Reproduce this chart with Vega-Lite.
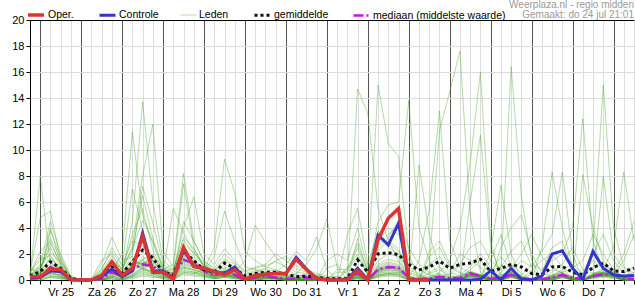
{
"$schema":"https://vega.github.io/schema/vega-lite/v6.json",
"width":604,"height":260,
"autosize":{"type":"none"},
"padding":{"left":30,"top":20,"right":1,"bottom":20},
"background":"white",
"title":{"text":["Weerplaza.nl - regio midden","Gemaakt: do 24 jul 21:01"],"anchor":"end","frame":"group","fontSize":10,"fontWeight":"normal","color":"#9a9a9a","font":"Liberation Sans","lineHeight":10,"offset":1,"baseline":"bottom","dy":26},
"config":{"view":{"stroke":null},"font":"Liberation Sans",
 "axis":{"labelFont":"Liberation Sans","labelFontSize":11,"labelColor":"#000000","tickColor":"#000000","domainColor":"#000000","gridColor":"#dcdcdc"},
 "legend":{"orient":"none","legendX":-4,"legendY":-15,"direction":"horizontal","symbolType":"stroke","symbolSize":256,"labelFontSize":10.5,"labelFont":"Liberation Sans","labelColor":"#000000","columnPadding":19,"labelOffset":2}},
"resolve":{"axis":{"x":"independent","y":"independent"}},
"data":{"values":[
{"h":18,"o":0.25,"c":0.2,"g":0.3,"d":0.1,"m1":0.3,"m2":0.5,"m3":0.2,"m4":0.8,"m5":0.1,"m6":0.4,"m7":0,"m8":0.6,"m9":0.2,"m10":0.3,"m11":0.1,"m12":0,"m13":0.5,"m14":0.2,"m15":0.3,"m16":0.7,"m17":0.1,"m18":0.4,"m19":0,"m20":0.2,"m21":0.3,"m22":0.1,"m23":0.6,"m24":0.2,"m25":0,"m26":0.4,"m27":0.3,"m28":0.1,"m29":0.2,"m30":0.5},
{"h":24,"o":0.25,"c":0.2,"g":0.64,"d":0.2,"m1":8.0,"m2":4.8,"m3":1.2,"m4":0.6,"m5":0.4,"m6":0.9,"m7":0.2,"m8":1.5,"m9":0.3,"m10":0.5,"m11":0,"m12":0.3,"m13":2.2,"m14":0.4,"m15":0.1,"m16":1.0,"m17":0.2,"m18":0.7,"m19":0,"m20":0.5,"m21":0.8,"m22":0.2,"m23":1.8,"m24":0.3,"m25":0.1,"m26":0.6,"m27":0.4,"m28":0,"m29":0.5,"m30":0.9},
{"h":30,"o":0.85,"c":0.7,"g":1.4,"d":1.0,"m1":1.2,"m2":5.3,"m3":4.5,"m4":4.0,"m5":3.8,"m6":2.5,"m7":0.8,"m8":1.9,"m9":0.6,"m10":1.3,"m11":0.3,"m12":1.0,"m13":3.0,"m14":0.7,"m15":0.5,"m16":2.1,"m17":0.4,"m18":1.6,"m19":0.2,"m20":1.1,"m21":2.8,"m22":0.9,"m23":1.4,"m24":0.5,"m25":0.3,"m26":1.7,"m27":0.6,"m28":0.2,"m29":1.0,"m30":3.2},
{"h":36,"o":0.8,"c":0.65,"g":0.9,"d":0.7,"m1":0.5,"m2":1.5,"m3":2.0,"m4":1.2,"m5":1.8,"m6":0.9,"m7":0.4,"m8":0.7,"m9":0.3,"m10":0.8,"m11":0.2,"m12":0.6,"m13":1.1,"m14":0.5,"m15":0.3,"m16":1.4,"m17":0.2,"m18":0.9,"m19":0.1,"m20":0.6,"m21":1.3,"m22":0.5,"m23":0.7,"m24":0.4,"m25":0.2,"m26":0.8,"m27":0.3,"m28":0.1,"m29":0.6,"m30":1.6},
{"h":42,"o":0,"c":0.05,"g":0.13,"d":0,"m1":0,"m2":0.2,"m3":0.3,"m4":0,"m5":0.1,"m6":0,"m7":0,"m8":0,"m9":0,"m10":0,"m11":0,"m12":0,"m13":0,"m14":0,"m15":0,"m16":0.1,"m17":0,"m18":0,"m19":0,"m20":0,"m21":0.2,"m22":0,"m23":0,"m24":0,"m25":0,"m26":0,"m27":0,"m28":0,"m29":0,"m30":0.2},
{"h":48,"o":0,"c":0,"g":0,"d":0,"m1":0,"m2":0,"m3":0,"m4":0,"m5":0,"m6":0,"m7":0,"m8":0,"m9":0,"m10":0,"m11":0,"m12":0,"m13":0,"m14":0,"m15":0,"m16":0,"m17":0,"m18":0,"m19":0,"m20":0,"m21":0,"m22":0,"m23":0,"m24":0,"m25":0,"m26":0,"m27":0,"m28":0,"m29":0,"m30":0},
{"h":54,"o":0,"c":0,"g":0,"d":0,"m1":0,"m2":0,"m3":0,"m4":0,"m5":0,"m6":0,"m7":0,"m8":0,"m9":0,"m10":0,"m11":0,"m12":0,"m13":0.1,"m14":0,"m15":0,"m16":0,"m17":0,"m18":0,"m19":0,"m20":0,"m21":0,"m22":0,"m23":0,"m24":0,"m25":0,"m26":0,"m27":0,"m28":0,"m29":0,"m30":0},
{"h":60,"o":0.35,"c":0.25,"g":0.33,"d":0.1,"m1":0.2,"m2":0,"m3":0.5,"m4":0,"m5":0.8,"m6":1.2,"m7":0.3,"m8":0,"m9":0.6,"m10":0.1,"m11":0,"m12":0.4,"m13":1.5,"m14":0,"m15":0.2,"m16":0,"m17":0.7,"m18":0.1,"m19":0,"m20":0.3,"m21":0,"m22":0.9,"m23":0.2,"m24":0,"m25":0.4,"m26":0,"m27":0.1,"m28":0.5,"m29":0,"m30":0.3},
{"h":66,"o":1.4,"c":0.85,"g":1.0,"d":0.6,"m1":0.6,"m2":0.3,"m3":1.1,"m4":0.2,"m5":2.5,"m6":3.3,"m7":0.8,"m8":0.4,"m9":1.6,"m10":0.5,"m11":0.1,"m12":1.0,"m13":2.0,"m14":0.3,"m15":0.7,"m16":0.2,"m17":1.8,"m18":0.5,"m19":0,"m20":1.2,"m21":0.4,"m22":2.2,"m23":0.9,"m24":0.1,"m25":1.4,"m26":0.3,"m27":0.6,"m28":1.5,"m29":0.2,"m30":0.8},
{"h":72,"o":0.35,"c":0.25,"g":0.5,"d":0.3,"m1":0.3,"m2":0.1,"m3":0.6,"m4":0.9,"m5":1.2,"m6":1.5,"m7":2.0,"m8":0.5,"m9":0.8,"m10":0.2,"m11":0,"m12":0.4,"m13":0.7,"m14":0.1,"m15":0.3,"m16":0,"m17":0.9,"m18":0.2,"m19":0.1,"m20":0.5,"m21":0.3,"m22":1.1,"m23":0.4,"m24":0,"m25":0.6,"m26":0.2,"m27":0.3,"m28":0.8,"m29":0.1,"m30":0.4},
{"h":78,"o":0.9,"c":0.7,"g":1.4,"d":0.8,"m1":0.8,"m2":0.4,"m3":1.5,"m4":2.2,"m5":3.0,"m6":1.8,"m7":11.4,"m8":4.5,"m9":2.6,"m10":0.6,"m11":0.3,"m12":1.2,"m13":0.9,"m14":0.2,"m15":1.0,"m16":0.1,"m17":2.4,"m18":0.5,"m19":0.3,"m20":1.6,"m21":0.7,"m22":7.0,"m23":1.1,"m24":0.2,"m25":1.9,"m26":0.4,"m27":0.8,"m28":3.5,"m29":0.3,"m30":1.3},
{"h":84,"o":3.35,"c":3.6,"g":2.3,"d":1.2,"m1":1.5,"m2":0.9,"m3":1.2,"m4":6.5,"m5":2.6,"m6":0.8,"m7":5.0,"m8":13.7,"m9":8.0,"m10":1.2,"m11":0.6,"m12":1.0,"m13":1.8,"m14":0.5,"m15":1.6,"m16":0.3,"m17":4.6,"m18":1.0,"m19":0.8,"m20":1.1,"m21":1.4,"m22":3.8,"m23":0.9,"m24":0.4,"m25":7.2,"m26":0.9,"m27":1.6,"m28":5.5,"m29":0.7,"m30":1.3},
{"h":90,"o":0.6,"c":0.7,"g":1.7,"d":1.1,"m1":0.9,"m2":0.5,"m3":1.8,"m4":3.2,"m5":1.5,"m6":0.7,"m7":2.8,"m8":6.0,"m9":12.0,"m10":0.8,"m11":0.4,"m12":1.1,"m13":1.3,"m14":0.3,"m15":2.0,"m16":0.2,"m17":3.0,"m18":0.6,"m19":0.5,"m20":1.9,"m21":0.9,"m22":1.4,"m23":1.2,"m24":0.3,"m25":4.4,"m26":0.6,"m27":1.0,"m28":2.3,"m29":0.4,"m30":1.5},
{"h":96,"o":0.6,"c":0.7,"g":0.6,"d":0.5,"m1":0.4,"m2":0.2,"m3":0.7,"m4":1.0,"m5":0.6,"m6":0.3,"m7":0.9,"m8":1.5,"m9":2.2,"m10":0.5,"m11":0.8,"m12":0.6,"m13":0.4,"m14":0.1,"m15":0.7,"m16":0.2,"m17":0.9,"m18":0.3,"m19":0.2,"m20":0.5,"m21":0.4,"m22":0.6,"m23":0.5,"m24":0.1,"m25":1.2,"m26":0.3,"m27":0.4,"m28":0.8,"m29":0.2,"m30":0.6},
{"h":102,"o":0.08,"c":0.12,"g":0.4,"d":0.3,"m1":0.2,"m2":0.1,"m3":0.4,"m4":0.6,"m5":0.3,"m6":0.1,"m7":0.5,"m8":0.8,"m9":1.0,"m10":5.5,"m11":1.2,"m12":0.9,"m13":0.6,"m14":0,"m15":0.4,"m16":0.1,"m17":0.3,"m18":0.2,"m19":0.1,"m20":0.3,"m21":0.2,"m22":0.4,"m23":0.3,"m24":0,"m25":0.7,"m26":0.2,"m27":0.2,"m28":0.5,"m29":0.1,"m30":0.3},
{"h":108,"o":2.5,"c":2.3,"g":2.25,"d":1.55,"m1":1.2,"m2":0.8,"m3":1.6,"m4":2.5,"m5":1.9,"m6":1.0,"m7":2.2,"m8":3.1,"m9":1.4,"m10":3.6,"m11":8.2,"m12":7.4,"m13":4.0,"m14":0.6,"m15":1.7,"m16":0.5,"m17":1.5,"m18":0.9,"m19":0.7,"m20":2.0,"m21":1.1,"m22":2.8,"m23":1.3,"m24":0.4,"m25":3.3,"m26":1.0,"m27":1.5,"m28":4.5,"m29":0.6,"m30":1.8},
{"h":114,"o":1.05,"c":1.05,"g":1.5,"d":1.3,"m1":1.0,"m2":0.6,"m3":1.3,"m4":1.8,"m5":1.5,"m6":0.7,"m7":1.4,"m8":2.0,"m9":1.1,"m10":2.2,"m11":3.0,"m12":2.5,"m13":6.4,"m14":0.5,"m15":1.2,"m16":0.4,"m17":1.3,"m18":0.8,"m19":0.6,"m20":1.6,"m21":0.9,"m22":2.1,"m23":1.0,"m24":0.3,"m25":2.4,"m26":0.8,"m27":1.1,"m28":3.0,"m29":0.5,"m30":1.4},
{"h":120,"o":0.9,"c":0.9,"g":0.8,"d":0.7,"m1":0.6,"m2":0.3,"m3":0.8,"m4":1.1,"m5":0.9,"m6":0.4,"m7":0.7,"m8":1.2,"m9":0.6,"m10":1.0,"m11":1.5,"m12":1.0,"m13":2.0,"m14":0.8,"m15":0.7,"m16":0.3,"m17":0.6,"m18":0.5,"m19":0.4,"m20":0.8,"m21":0.5,"m22":1.3,"m23":0.7,"m24":0.2,"m25":1.1,"m26":0.5,"m27":0.7,"m28":1.4,"m29":0.3,"m30":0.8},
{"h":126,"o":0.65,"c":0.65,"g":0.6,"d":0.35,"m1":0.3,"m2":0.2,"m3":0.5,"m4":0.7,"m5":0.4,"m6":0.2,"m7":0.4,"m8":0.6,"m9":0.3,"m10":0.5,"m11":0.8,"m12":0.4,"m13":1.2,"m14":2.5,"m15":1.8,"m16":0.1,"m17":0.3,"m18":0.2,"m19":0.2,"m20":0.4,"m21":0.3,"m22":0.7,"m23":0.3,"m24":0.1,"m25":0.6,"m26":0.2,"m27":0.3,"m28":0.9,"m29":0.1,"m30":0.4},
{"h":132,"o":0.4,"c":0.5,"g":1.3,"d":0.6,"m1":0.5,"m2":0.3,"m3":0.6,"m4":1.2,"m5":0.7,"m6":0.3,"m7":0.5,"m8":0.9,"m9":0.4,"m10":0.8,"m11":1.5,"m12":0.6,"m13":2.4,"m14":9.3,"m15":5.3,"m16":0.2,"m17":0.5,"m18":0.4,"m19":0.3,"m20":0.7,"m21":0.4,"m22":1.6,"m23":0.5,"m24":0.2,"m25":1.0,"m26":0.3,"m27":0.6,"m28":2.0,"m29":0.2,"m30":0.7},
{"h":138,"o":0.8,"c":1.0,"g":0.9,"d":0.4,"m1":0.3,"m2":0.2,"m3":0.4,"m4":0.8,"m5":0.5,"m6":0.2,"m7":0.3,"m8":0.6,"m9":0.2,"m10":0.5,"m11":1.0,"m12":0.4,"m13":1.5,"m14":6.7,"m15":3.0,"m16":0.6,"m17":0.3,"m18":0.2,"m19":0.2,"m20":0.4,"m21":0.3,"m22":1.2,"m23":0.3,"m24":0.1,"m25":0.7,"m26":0.2,"m27":0.4,"m28":1.3,"m29":0.1,"m30":0.5},
{"h":144,"o":0.05,"c":0.05,"g":0.3,"d":0.05,"m1":0,"m2":0,"m3":0.1,"m4":0.3,"m5":0,"m6":0,"m7":0,"m8":0.2,"m9":0,"m10":0.1,"m11":0.4,"m12":0,"m13":0.6,"m14":2.2,"m15":1.0,"m16":1.5,"m17":0,"m18":0,"m19":0,"m20":0.1,"m21":0,"m22":0.5,"m23":0,"m24":0,"m25":0.2,"m26":0,"m27":0.1,"m28":0.7,"m29":0,"m30":0},
{"h":150,"o":0.35,"c":0.35,"g":0.5,"d":0.2,"m1":0.1,"m2":0,"m3":0.2,"m4":0.5,"m5":0.2,"m6":0.1,"m7":0,"m8":0.3,"m9":0.1,"m10":0.2,"m11":0.6,"m12":0.1,"m13":0.9,"m14":1.5,"m15":0.8,"m16":4.2,"m17":0.2,"m18":0.1,"m19":0,"m20":0.3,"m21":0.1,"m22":0.7,"m23":0.2,"m24":0,"m25":0.4,"m26":0.1,"m27":0.2,"m28":1.0,"m29":0,"m30":0.2},
{"h":156,"o":0.45,"c":0.45,"g":0.6,"d":0.3,"m1":0.2,"m2":0.1,"m3":0.3,"m4":0.6,"m5":0.3,"m6":0.2,"m7":0.1,"m8":0.5,"m9":0.2,"m10":0.3,"m11":0.8,"m12":0.2,"m13":1.1,"m14":1.0,"m15":0.6,"m16":2.9,"m17":0.4,"m18":0.2,"m19":0.1,"m20":0.4,"m21":0.2,"m22":0.9,"m23":0.3,"m24":0.1,"m25":0.5,"m26":0.2,"m27":0.3,"m28":1.2,"m29":0.1,"m30":0.3},
{"h":162,"o":0.5,"c":0.5,"g":0.6,"d":0.2,"m1":0.1,"m2":0.1,"m3":0.2,"m4":0.5,"m5":0.2,"m6":0.1,"m7":0.1,"m8":0.4,"m9":0.1,"m10":0.2,"m11":0.7,"m12":0.1,"m13":1.4,"m14":0.8,"m15":0.5,"m16":1.8,"m17":0.6,"m18":0.3,"m19":0.1,"m20":0.3,"m21":0.1,"m22":1.5,"m23":0.2,"m24":0,"m25":0.4,"m26":0.1,"m27":0.2,"m28":2.0,"m29":0.1,"m30":0.2},
{"h":168,"o":0.5,"c":0.5,"g":0.45,"d":0.1,"m1":0,"m2":0,"m3":0.1,"m4":0.3,"m5":0.1,"m6":0,"m7":0,"m8":0.2,"m9":0,"m10":0.1,"m11":0.5,"m12":0,"m13":1.0,"m14":0.4,"m15":0.2,"m16":0.9,"m17":1.2,"m18":0.2,"m19":0,"m20":0.1,"m21":0,"m22":1.8,"m23":0.1,"m24":0,"m25":0.3,"m26":0,"m27":0.1,"m28":1.5,"m29":0,"m30":0.1},
{"h":174,"o":1.6,"c":1.75,"g":0.25,"d":0.1,"m1":0,"m2":0,"m3":0.1,"m4":0.2,"m5":0,"m6":0,"m7":0,"m8":0.1,"m9":0,"m10":0.1,"m11":0.3,"m12":0,"m13":0.6,"m14":0.2,"m15":0.1,"m16":0.4,"m17":2.2,"m18":0.5,"m19":0,"m20":0.1,"m21":0,"m22":1.1,"m23":0,"m24":0,"m25":0.2,"m26":0,"m27":0.1,"m28":0.9,"m29":0,"m30":0},
{"h":180,"o":0.8,"c":0.85,"g":0.3,"d":0.2,"m1":0,"m2":0,"m3":0.2,"m4":0.3,"m5":0,"m6":0,"m7":0,"m8":0.2,"m9":0,"m10":0.1,"m11":0.4,"m12":0,"m13":0.5,"m14":0.1,"m15":0,"m16":0.3,"m17":1.5,"m18":1.2,"m19":0,"m20":0,"m21":0,"m22":0.8,"m23":0.2,"m24":0,"m25":0.3,"m26":0,"m27":0,"m28":0.6,"m29":0,"m30":0.1},
{"h":186,"o":0.1,"c":0.1,"g":0.2,"d":0.05,"m1":0,"m2":0,"m3":0.1,"m4":0.2,"m5":0,"m6":0,"m7":0,"m8":0.1,"m9":0,"m10":0,"m11":0.3,"m12":0,"m13":0.3,"m14":0,"m15":0,"m16":0.2,"m17":3.3,"m18":2.4,"m19":0,"m20":0,"m21":0,"m22":0.5,"m23":0,"m24":0,"m25":0.1,"m26":0,"m27":0,"m28":0.4,"m29":0,"m30":0},
{"h":192,"o":0,"c":0,"g":0.1,"d":0,"m1":0,"m2":0,"m3":0,"m4":0.1,"m5":0.9,"m6":0,"m7":0,"m8":0,"m9":0,"m10":0,"m11":0.1,"m12":0,"m13":0.2,"m14":0,"m15":0,"m16":0,"m17":0.8,"m18":4.7,"m19":0,"m20":1.5,"m21":0,"m22":0.3,"m23":0,"m24":0,"m25":0,"m26":0,"m27":0,"m28":0.2,"m29":0,"m30":0},
{"h":198,"o":0,"c":0,"g":0.1,"d":0,"m1":0,"m2":0,"m3":0,"m4":0,"m5":1.2,"m6":0,"m7":0,"m8":0,"m9":0.6,"m10":0,"m11":0,"m12":0,"m13":0.1,"m14":0,"m15":0,"m16":0,"m17":0,"m18":1.0,"m19":0,"m20":2.0,"m21":0,"m22":0.2,"m23":0,"m24":0.3,"m25":0,"m26":0.8,"m27":0,"m28":0,"m29":0,"m30":0},
{"h":204,"o":0,"c":0.05,"g":0.1,"d":0,"m1":0,"m2":0,"m3":0.3,"m4":0,"m5":0.4,"m6":0,"m7":0,"m8":0,"m9":0.6,"m10":0,"m11":0,"m12":0.8,"m13":0,"m14":0,"m15":3.5,"m16":0,"m17":0,"m18":0,"m19":0,"m20":1.5,"m21":0,"m22":0,"m23":0,"m24":0,"m25":0,"m26":0.8,"m27":0,"m28":0,"m29":1.0,"m30":0},
{"h":210,"o":0.75,"c":0.9,"g":1.54,"d":0.5,"m1":0.4,"m2":0.2,"m3":1.0,"m4":0.5,"m5":0.3,"m6":0.8,"m7":0.2,"m8":0.6,"m9":2.5,"m10":0.1,"m11":0.4,"m12":1.8,"m13":0.5,"m14":0.3,"m15":5.5,"m16":0.2,"m17":0.6,"m18":0.3,"m19":14.7,"m20":4.0,"m21":3.2,"m22":0.2,"m23":0.5,"m24":0.1,"m25":0.7,"m26":2.8,"m27":0.3,"m28":0.4,"m29":2.0,"m30":0.1},
{"h":216,"o":0,"c":0.05,"g":0.6,"d":0.05,"m1":0,"m2":0,"m3":0.1,"m4":0,"m5":0,"m6":0.1,"m7":0,"m8":0,"m9":0.3,"m10":0,"m11":0,"m12":0.4,"m13":0,"m14":0,"m15":1.2,"m16":0,"m17":0,"m18":0,"m19":12.8,"m20":0.8,"m21":0.5,"m22":0,"m23":0,"m24":0,"m25":0,"m26":0.6,"m27":0,"m28":0,"m29":0.3,"m30":0},
{"h":222,"o":3.1,"c":3.45,"g":2.0,"d":0.8,"m1":0.8,"m2":0.5,"m3":1.5,"m4":0.9,"m5":0.6,"m6":2.2,"m7":0.4,"m8":1.0,"m9":3.0,"m10":0.3,"m11":0.7,"m12":2.6,"m13":0.8,"m14":0.5,"m15":3.8,"m16":0.4,"m17":1.1,"m18":0.6,"m19":5.5,"m20":15.0,"m21":4.5,"m22":0.3,"m23":0.9,"m24":0.2,"m25":1.2,"m26":3.5,"m27":0.7,"m28":0.8,"m29":2.4,"m30":0.3},
{"h":228,"o":4.75,"c":2.7,"g":2.1,"d":1.0,"m1":1.0,"m2":0.7,"m3":2.0,"m4":1.1,"m5":0.8,"m6":3.0,"m7":0.5,"m8":1.3,"m9":4.0,"m10":0.4,"m11":0.9,"m12":3.5,"m13":1.0,"m14":0.6,"m15":2.5,"m16":0.5,"m17":1.4,"m18":0.8,"m19":3.0,"m20":10.5,"m21":5.8,"m22":0.5,"m23":1.2,"m24":0.3,"m25":1.6,"m26":2.8,"m27":0.9,"m28":1.0,"m29":3.2,"m30":0.4},
{"h":234,"o":5.5,"c":4.35,"g":1.95,"d":0.95,"m1":0.9,"m2":0.6,"m3":1.8,"m4":1.0,"m5":0.7,"m6":2.4,"m7":0.4,"m8":1.1,"m9":3.5,"m10":0.3,"m11":0.8,"m12":4.2,"m13":0.9,"m14":0.5,"m15":2.0,"m16":0.4,"m17":1.2,"m18":0.7,"m19":1.5,"m20":9.5,"m21":6.0,"m22":0.6,"m23":1.0,"m24":0.3,"m25":1.4,"m26":2.2,"m27":0.8,"m28":0.9,"m29":4.6,"m30":0.5},
{"h":240,"o":0,"c":0,"g":1.2,"d":0.2,"m1":0.1,"m2":0.1,"m3":0.3,"m4":0.2,"m5":0.1,"m6":0.5,"m7":0,"m8":0.2,"m9":1.0,"m10":0,"m11":0.2,"m12":1.5,"m13":0.2,"m14":0.1,"m15":0.6,"m16":0,"m17":0.2,"m18":0.1,"m19":0.3,"m20":2.0,"m21":13.8,"m22":0.4,"m23":0.2,"m24":0,"m25":0.3,"m26":0.8,"m27":0.1,"m28":0.2,"m29":2.5,"m30":0},
{"h":246,"o":0,"c":0,"g":0.77,"d":0.05,"m1":0,"m2":0,"m3":0.1,"m4":0,"m5":0,"m6":0.2,"m7":0,"m8":0,"m9":0.5,"m10":0,"m11":0,"m12":0.8,"m13":0,"m14":0,"m15":0.3,"m16":0,"m17":0,"m18":0,"m19":0,"m20":0,"m21":4.0,"m22":8.85,"m23":1.5,"m24":0,"m25":0,"m26":0.4,"m27":0,"m28":0,"m29":1.2,"m30":0.2},
{"h":252,"o":0,"c":0,"g":1.0,"d":0.1,"m1":0.3,"m2":0.1,"m3":0,"m4":1.8,"m5":0.1,"m6":0,"m7":0.5,"m8":0.2,"m9":0,"m10":0.2,"m11":0,"m12":0.4,"m13":0.1,"m14":0,"m15":0,"m16":2.2,"m17":0,"m18":0,"m19":0,"m20":0,"m21":1.5,"m22":3.5,"m23":5.4,"m24":1.0,"m25":0,"m26":0,"m27":0.6,"m28":0,"m29":0.6,"m30":1.2},
{"h":258,"c":0,"g":1.45,"d":0.25,"m1":0.5,"m2":0.2,"m3":0.1,"m4":2.5,"m5":0.3,"m6":0.1,"m7":0.8,"m8":0.4,"m9":0,"m10":0.3,"m11":0,"m12":0.2,"m13":0.2,"m14":0.1,"m15":0,"m16":3.0,"m17":0,"m18":0,"m19":0,"m20":0,"m21":0.3,"m22":1.0,"m23":13.0,"m24":11.5,"m25":0.6,"m26":0,"m27":1.0,"m28":0.2,"m29":0,"m30":1.8},
{"h":264,"c":0,"g":0.9,"d":0.15,"m1":0.2,"m2":0,"m3":0,"m4":1.0,"m5":0.1,"m6":0,"m7":0.3,"m8":0.2,"m9":0,"m10":0,"m11":0,"m12":0,"m13":0.1,"m14":0,"m15":0,"m16":1.2,"m17":0,"m18":0,"m19":0,"m20":0,"m21":0,"m22":0,"m23":3.0,"m24":14.5,"m25":1.5,"m26":0,"m27":0.4,"m28":0.5,"m29":0,"m30":0.6},
{"h":270,"c":0,"g":1.2,"d":0.15,"m1":0.1,"m2":0,"m3":0,"m4":0.5,"m5":0.1,"m6":0,"m7":0.2,"m8":0.3,"m9":0,"m10":0,"m11":0.4,"m12":0,"m13":0.1,"m14":0,"m15":0,"m16":0.6,"m17":0.2,"m18":0,"m19":0,"m20":0,"m21":0,"m22":0,"m23":1.0,"m24":17.6,"m25":4.0,"m26":0,"m27":1.2,"m28":2.0,"m29":0,"m30":0.3},
{"h":276,"c":0,"g":1.3,"d":0.5,"m1":0.5,"m2":0.4,"m3":0.6,"m4":0.3,"m5":0.5,"m6":0.4,"m7":0.7,"m8":0.6,"m9":0.3,"m10":0.5,"m11":1.0,"m12":0.4,"m13":0.6,"m14":0.3,"m15":0.5,"m16":0.2,"m17":0.8,"m18":0.4,"m19":0.3,"m20":0.6,"m21":0.2,"m22":0.3,"m23":0.5,"m24":5.0,"m25":9.0,"m26":6.0,"m27":2.5,"m28":1.5,"m29":0.4,"m30":0.6},
{"h":282,"c":0.05,"g":1.6,"d":0.3,"m1":0.3,"m2":0.2,"m3":0.4,"m4":0.1,"m5":0.3,"m6":0.2,"m7":0.4,"m8":0.3,"m9":0.2,"m10":0.3,"m11":2.0,"m12":0.2,"m13":0.3,"m14":0.1,"m15":0.4,"m16":0.1,"m17":1.5,"m18":0.2,"m19":0.2,"m20":0.3,"m21":0.1,"m22":0.2,"m23":0.3,"m24":0.6,"m25":16.0,"m26":11.15,"m27":3.0,"m28":1.0,"m29":0.2,"m30":0.4},
{"h":288,"c":0.72,"g":0.64,"d":0.1,"m1":0.1,"m2":0,"m3":0.2,"m4":0,"m5":0,"m6":0.6,"m7":0,"m8":0,"m9":0.4,"m10":0,"m11":1.0,"m12":0,"m13":0.2,"m14":2.2,"m15":0,"m16":0,"m17":0.8,"m18":1.5,"m19":0,"m20":0.3,"m21":0,"m22":0,"m23":0,"m24":0,"m25":3.0,"m26":2.5,"m27":1.5,"m28":0,"m29":0,"m30":0},
{"h":294,"c":0,"g":0.9,"d":0.15,"m1":0.2,"m2":2.5,"m3":0.4,"m4":0,"m5":0.2,"m6":1.8,"m7":0,"m8":0,"m9":1.2,"m10":0.1,"m11":0,"m12":1.0,"m13":0,"m14":7.3,"m15":0.6,"m16":0,"m17":0,"m18":3.5,"m19":0.1,"m20":0,"m21":0.3,"m22":0.2,"m23":0,"m24":0,"m25":0,"m26":0.4,"m27":0.8,"m28":0,"m29":0.3,"m30":0},
{"h":300,"c":0.9,"g":1.2,"d":0.4,"m1":0.4,"m2":4.0,"m3":0.6,"m4":0.3,"m5":0.5,"m6":0.8,"m7":0.2,"m8":0.4,"m9":0.6,"m10":0.3,"m11":0.5,"m12":2.2,"m13":0.4,"m14":2.0,"m15":1.2,"m16":0.2,"m17":0.3,"m18":1.0,"m19":0.4,"m20":0.5,"m21":0.9,"m22":0.6,"m23":0.3,"m24":0.2,"m25":0.4,"m26":0.5,"m27":16.4,"m28":0.3,"m29":0.6,"m30":0.4},
{"h":306,"c":0.05,"g":1.0,"d":0.15,"m1":0.1,"m2":5.0,"m3":0,"m4":0.1,"m5":0,"m6":0.2,"m7":0,"m8":0,"m9":0.3,"m10":0,"m11":0.2,"m12":3.0,"m13":0.1,"m14":0,"m15":0.5,"m16":0,"m17":0,"m18":0,"m19":0.2,"m20":0,"m21":2.0,"m22":0.3,"m23":0,"m24":0,"m25":0.2,"m26":0,"m27":6.4,"m28":0,"m29":1.5,"m30":0.4},
{"h":312,"c":0,"g":0.5,"d":0.05,"m1":0,"m2":2.0,"m3":0.1,"m4":0,"m5":0,"m6":0,"m7":0,"m8":0.5,"m9":0,"m10":0,"m11":0,"m12":1.0,"m13":0,"m14":0,"m15":0,"m16":0.8,"m17":0,"m18":0,"m19":0,"m20":0,"m21":3.5,"m22":0,"m23":0,"m24":0,"m25":0,"m26":0,"m27":1.5,"m28":0,"m29":1.0,"m30":1.2},
{"h":318,"c":0.3,"g":0.4,"d":0.05,"m1":0,"m2":0.5,"m3":0,"m4":0,"m5":0,"m6":0,"m7":0,"m8":0.3,"m9":0,"m10":0.6,"m11":0,"m12":0,"m13":0,"m14":0,"m15":0,"m16":1.5,"m17":0,"m18":0,"m19":0,"m20":0,"m21":1.8,"m22":0,"m23":0,"m24":0,"m25":0,"m26":0,"m27":0,"m28":2.5,"m29":2.2,"m30":0.8},
{"h":324,"c":2.0,"g":1.0,"d":0.2,"m1":0.2,"m2":0.3,"m3":0.2,"m4":0.1,"m5":0.6,"m6":0.4,"m7":0.2,"m8":0.8,"m9":0,"m10":2.5,"m11":0.3,"m12":0,"m13":0.3,"m14":0.1,"m15":0,"m16":2.0,"m17":0.2,"m18":0,"m19":0.1,"m20":0.2,"m21":1.0,"m22":0.4,"m23":0.1,"m24":0,"m25":0.2,"m26":0.1,"m27":0,"m28":8.3,"m29":3.5,"m30":1.5},
{"h":330,"c":2.25,"g":1.05,"d":0.4,"m1":0.4,"m2":0.5,"m3":0.4,"m4":0.3,"m5":1.2,"m6":0.6,"m7":0.4,"m8":0.6,"m9":0.3,"m10":3.0,"m11":0.5,"m12":0.2,"m13":0.8,"m14":0.3,"m15":0.4,"m16":1.0,"m17":0.4,"m18":0.2,"m19":0.3,"m20":0.4,"m21":0.5,"m22":0.6,"m23":0.3,"m24":0.2,"m25":0.4,"m26":0.3,"m27":0.2,"m28":4.0,"m29":8.3,"m30":2.0},
{"h":336,"c":0.9,"g":0.6,"d":0.15,"m1":0.1,"m2":0,"m3":0.1,"m4":0,"m5":2.5,"m6":0.2,"m7":0,"m8":0,"m9":0,"m10":0.8,"m11":0.2,"m12":0,"m13":1.2,"m14":0,"m15":0.1,"m16":0,"m17":0.1,"m18":0,"m19":0.2,"m20":0.2,"m21":0,"m22":0.9,"m23":0.1,"m24":0,"m25":0.3,"m26":0,"m27":0,"m28":1.0,"m29":2.0,"m30":4.0},
{"h":342,"c":0.05,"g":0.4,"d":0.1,"m1":8.1,"m2":0,"m3":0.1,"m4":0,"m5":0.8,"m6":0,"m7":0,"m8":0,"m9":0,"m10":0,"m11":0.2,"m12":0,"m13":0.5,"m14":0,"m15":0.4,"m16":0,"m17":0,"m18":0,"m19":0.1,"m20":0,"m21":0,"m22":1.5,"m23":0,"m24":0,"m25":0.6,"m26":0,"m27":0,"m28":0,"m29":0,"m30":12.4},
{"h":348,"c":2.2,"g":0.95,"d":0.3,"m1":4.0,"m2":2.5,"m3":0.2,"m4":0.4,"m5":0.5,"m6":0.3,"m7":0.2,"m8":0.3,"m9":0.4,"m10":0.3,"m11":0.5,"m12":0.2,"m13":1.5,"m14":0.3,"m15":1.0,"m16":0.4,"m17":0.2,"m18":0.3,"m19":0.4,"m20":0.3,"m21":0.2,"m22":3.5,"m23":0.4,"m24":0.1,"m25":2.0,"m26":0.3,"m27":0.2,"m28":0.5,"m29":0.3,"m30":3.0},
{"h":354,"c":0.9,"g":1.3,"d":0.45,"m1":1.5,"m2":15.0,"m3":7.95,"m4":0.8,"m5":0.6,"m6":0.5,"m7":0.4,"m8":0.6,"m9":0.5,"m10":0.4,"m11":0.9,"m12":0.3,"m13":0.8,"m14":0.4,"m15":1.2,"m16":0.6,"m17":0.3,"m18":0.4,"m19":0.6,"m20":0.5,"m21":0.3,"m22":2.0,"m23":0.5,"m24":0.2,"m25":3.5,"m26":0.4,"m27":0.3,"m28":0.7,"m29":0.4,"m30":0.8},
{"h":360,"c":0.4,"g":0.7,"d":0.4,"m1":0.5,"m2":4.0,"m3":2.0,"m4":2.5,"m5":0.4,"m6":0.3,"m7":0.5,"m8":0.4,"m9":0.3,"m10":0.4,"m11":0.6,"m12":0.2,"m13":0.5,"m14":0.3,"m15":0.7,"m16":0.4,"m17":0.3,"m18":0.2,"m19":0.4,"m20":0.5,"m21":0.2,"m22":0.8,"m23":0.4,"m24":0.1,"m25":1.5,"m26":0.3,"m27":0.2,"m28":0.5,"m29":0.3,"m30":0.6},
{"h":366,"c":0.3,"g":0.65,"d":0.1,"m1":0.1,"m2":1.0,"m3":0.8,"m4":8.3,"m5":0.2,"m6":0,"m7":0.1,"m8":0,"m9":0.1,"m10":0,"m11":2.0,"m12":0,"m13":0.3,"m14":0,"m15":0.2,"m16":1.5,"m17":0,"m18":0,"m19":0,"m20":0.1,"m21":0,"m22":0.2,"m23":0,"m24":0,"m25":0.5,"m26":0,"m27":0,"m28":0.3,"m29":0,"m30":0.2},
{"h":372,"c":0.35,"g":0.9,"d":0.05,"m1":0,"m2":0.5,"m3":0.3,"m4":3.0,"m5":0,"m6":0,"m7":0,"m8":0,"m9":0.2,"m10":0,"m11":4.5,"m12":0,"m13":0.4,"m14":0,"m15":0,"m16":3.5,"m17":0,"m18":0,"m19":0,"m20":0.3,"m21":0,"m22":0.2,"m23":0,"m24":0,"m25":1.0,"m26":0,"m27":0,"m28":0.6,"m29":0,"m30":0.1}
]},
"layer":[
{"transform":[{"fold":["m1","m2","m3","m4","m5","m6","m7","m8","m9","m10","m11","m12","m13","m14","m15","m16","m17","m18","m19","m20","m21","m22","m23","m24","m25","m26","m27","m28","m29","m30"],"as":["mem","v"]}],
 "mark":{"type":"line"},
 "encoding":{
  "x":{"field":"h","type":"quantitative","scale":{"domain":[18,372],"nice":false,"zero":false},
       "axis":{"orient":"bottom","values":[18,24,30,36,42,48,54,60,66,72,78,84,90,96,102,108,114,120,126,132,138,144,150,156,162,168,174,180,186,192,198,204,210,216,222,228,234,240,246,252,258,264,270,276,282,288,294,300,306,312,318,324,330,336,342,348,354,360,366,372],
       "labelExpr":"datum.value % 24 == 12 ? ['','Vr 25','Za 26','Zo 27','Ma 28','Di 29','Wo 30','Do 31','Vr 1','Za 2','Zo 3','Ma 4','Di 5','Wo 6','Do 7','',''][floor(datum.value/24)] : ''",
       "grid":true,"tickSize":4,"labelPadding":2,"labelOverlap":false,"labelFlush":false,"labelBound":false,"title":null}},
  "y":{"field":"v","type":"quantitative","scale":{"domain":[0,20],"nice":false,"zero":true},
       "axis":{"orient":"left","values":[0,2,4,6,8,10,12,14,16,18,20],"grid":true,"tickSize":4,"labelPadding":2,"title":null}},
  "detail":{"field":"mem"},
  "color":{"datum":"l","type":"nominal","scale":{"domain":["o","c","l","g","d"],"range":["#dd3333","#3535cc","#3f9f1f","#111111","#cc11ee"]},
     "legend":{"title":null,"labelExpr":"datum.value=='o' ? 'Oper.' : datum.value=='c' ? 'Controle' : datum.value=='l' ? 'Leden' : datum.value=='g' ? 'gemiddelde' : 'mediaan (middelste waarde)'"}},
  "strokeDash":{"datum":"l","type":"nominal","scale":{"domain":["o","c","l","g","d"],"range":[[1,0],[1,0],[1,0],[3,3],[10,3,2,3]]},
     "legend":{"title":null,"labelExpr":"datum.value=='o' ? 'Oper.' : datum.value=='c' ? 'Controle' : datum.value=='l' ? 'Leden' : datum.value=='g' ? 'gemiddelde' : 'mediaan (middelste waarde)'"}},
  "strokeWidth":{"datum":"l","type":"nominal","scale":{"type":"ordinal","domain":["o","c","l","g","d"],"range":[3.5,3,1,3,2.5]},
     "legend":{"title":null,"labelExpr":"datum.value=='o' ? 'Oper.' : datum.value=='c' ? 'Controle' : datum.value=='l' ? 'Leden' : datum.value=='g' ? 'gemiddelde' : 'mediaan (middelste waarde)'"}},
  "opacity":{"datum":"l","type":"nominal","scale":{"type":"ordinal","domain":["o","c","l","g","d"],"range":[1,1,0.4,1,1]},
     "legend":{"title":null,"labelExpr":"datum.value=='o' ? 'Oper.' : datum.value=='c' ? 'Controle' : datum.value=='l' ? 'Leden' : datum.value=='g' ? 'gemiddelde' : 'mediaan (middelste waarde)'"}}
 }},
{"mark":{"type":"line"},
 "encoding":{
  "x":{"field":"h","type":"quantitative","scale":{"domain":[18,372],"nice":false,"zero":false},
       "axis":{"orient":"top","values":[24,48,72,96,120,144,168,192,216,240,264,288,312,336,360],"grid":true,"gridColor":"#555555","ticks":false,"labels":false,"domain":true,"title":null}},
  "y":{"field":"d","type":"quantitative","scale":{"domain":[0,20],"nice":false,"zero":true},"axis":null},
  "color":{"datum":"d","type":"nominal","scale":{"domain":["o","c","l","g","d"],"range":["#dd3333","#3535cc","#3f9f1f","#111111","#cc11ee"]},"legend":null},
  "strokeDash":{"datum":"d","type":"nominal","scale":{"domain":["o","c","l","g","d"],"range":[[1,0],[1,0],[1,0],[3,3],[10,3,2,3]]},"legend":null},
  "strokeWidth":{"datum":"d","type":"nominal","scale":{"type":"ordinal","domain":["o","c","l","g","d"],"range":[3.5,3,1,3,2.5]},"legend":null},
  "opacity":{"datum":"d","type":"nominal","scale":{"type":"ordinal","domain":["o","c","l","g","d"],"range":[1,1,0.4,1,1]},"legend":null}
 }},
{"mark":{"type":"line"},
 "encoding":{
  "x":{"field":"h","type":"quantitative","scale":{"domain":[18,372],"nice":false,"zero":false},"axis":null},
  "y":{"field":"g","type":"quantitative","scale":{"domain":[0,20],"nice":false,"zero":true},"axis":null},
  "color":{"datum":"g","type":"nominal","scale":{"domain":["o","c","l","g","d"],"range":["#dd3333","#3535cc","#3f9f1f","#111111","#cc11ee"]},"legend":null},
  "strokeDash":{"datum":"g","type":"nominal","scale":{"domain":["o","c","l","g","d"],"range":[[1,0],[1,0],[1,0],[3,3],[10,3,2,3]]},"legend":null},
  "strokeWidth":{"datum":"g","type":"nominal","scale":{"type":"ordinal","domain":["o","c","l","g","d"],"range":[3.5,3,1,3,2.5]},"legend":null},
  "opacity":{"datum":"g","type":"nominal","scale":{"type":"ordinal","domain":["o","c","l","g","d"],"range":[1,1,0.4,1,1]},"legend":null}
 }},
{"mark":{"type":"line"},
 "encoding":{
  "x":{"field":"h","type":"quantitative","scale":{"domain":[18,372],"nice":false,"zero":false},"axis":null},
  "y":{"field":"c","type":"quantitative","scale":{"domain":[0,20],"nice":false,"zero":true},"axis":null},
  "color":{"datum":"c","type":"nominal","scale":{"domain":["o","c","l","g","d"],"range":["#dd3333","#3535cc","#3f9f1f","#111111","#cc11ee"]},"legend":null},
  "strokeDash":{"datum":"c","type":"nominal","scale":{"domain":["o","c","l","g","d"],"range":[[1,0],[1,0],[1,0],[3,3],[10,3,2,3]]},"legend":null},
  "strokeWidth":{"datum":"c","type":"nominal","scale":{"type":"ordinal","domain":["o","c","l","g","d"],"range":[3.5,3,1,3,2.5]},"legend":null},
  "opacity":{"datum":"c","type":"nominal","scale":{"type":"ordinal","domain":["o","c","l","g","d"],"range":[1,1,0.4,1,1]},"legend":null}
 }},
{"mark":{"type":"line"},
 "encoding":{
  "x":{"field":"h","type":"quantitative","scale":{"domain":[18,372],"nice":false,"zero":false},"axis":null},
  "y":{"field":"o","type":"quantitative","scale":{"domain":[0,20],"nice":false,"zero":true},"axis":null},
  "color":{"datum":"o","type":"nominal","scale":{"domain":["o","c","l","g","d"],"range":["#dd3333","#3535cc","#3f9f1f","#111111","#cc11ee"]},"legend":null},
  "strokeDash":{"datum":"o","type":"nominal","scale":{"domain":["o","c","l","g","d"],"range":[[1,0],[1,0],[1,0],[3,3],[10,3,2,3]]},"legend":null},
  "strokeWidth":{"datum":"o","type":"nominal","scale":{"type":"ordinal","domain":["o","c","l","g","d"],"range":[3.5,3,1,3,2.5]},"legend":null},
  "opacity":{"datum":"o","type":"nominal","scale":{"type":"ordinal","domain":["o","c","l","g","d"],"range":[1,1,0.4,1,1]},"legend":null}
 }}
]
}
